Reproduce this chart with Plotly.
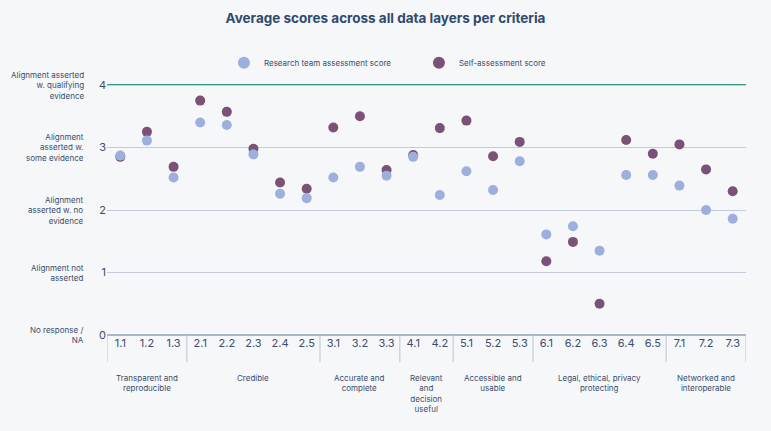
import plotly.graph_objects as go

# criteria codes along the x axis
criteria = ["1.1", "1.2", "1.3",
            "2.1", "2.2", "2.3", "2.4", "2.5",
            "3.1", "3.2", "3.3",
            "4.1", "4.2",
            "5.1", "5.2", "5.3",
            "6.1", "6.2", "6.3", "6.4", "6.5",
            "7.1", "7.2", "7.3"]

research_team = [2.87, 3.11, 2.52,
                 3.40, 3.36, 2.89, 2.26, 2.19,
                 2.52, 2.69, 2.55,
                 2.85, 2.24,
                 2.62, 2.32, 2.78,
                 1.61, 1.74, 1.35, 2.56, 2.56,
                 2.39, 2.00, 1.86]

self_assessment = [2.85, 3.25, 2.69,
                   3.75, 3.57, 2.98, 2.44, 2.34,
                   3.32, 3.50, 2.64,
                   2.88, 3.31,
                   3.43, 2.86, 3.09,
                   1.18, 1.49, 0.50, 3.12, 2.90,
                   3.05, 2.65, 2.30]

groups = ["Transparent and<br>reproducible", "Credible", "Accurate and<br>complete",
          "Relevant<br>and<br>decision<br>useful", "Accessible and<br>usable",
          "Legal, ethical, privacy<br>protecting", "Networked and<br>interoperable"]
group_sizes = [3, 5, 3, 2, 3, 5, 3]

score_levels = [0, 1, 2, 3, 4]
score_labels = ["No response /<br>NA", "Alignment not<br>asserted",
                "Alignment<br>asserted w. no<br>evidence",
                "Alignment<br>asserted w.<br>some evidence",
                "Alignment asserted<br>w. qualifying<br>evidence"]

FONT = "Inter"
TEXT = "#3b4d6b"
BG = "#f6f7f9"
GRID = "#c3cbdd"

xpos = list(range(len(criteria)))

fig = go.Figure()
fig.add_trace(go.Scatter(
    x=xpos, y=self_assessment, mode="markers", name="Self-assessment score",
    marker=dict(size=10, color="#7b5175"), legendrank=2
))
fig.add_trace(go.Scatter(
    x=xpos, y=research_team, mode="markers", name="Research team assessment score",
    marker=dict(size=10, color="#9cafdd"), legendrank=1
))

shapes = []
# teal line at top score
shapes.append(dict(type="line", xref="paper", yref="y", x0=0, x1=1, y0=4, y1=4,
                   line=dict(color="#3a978a", width=2), layer="between"))

# separators between criteria groups
bounds = [-0.5]
for n in group_sizes:
    bounds.append(bounds[-1] + n)
for b in bounds:
    shapes.append(dict(type="line", xref="x", yref="paper", x0=b, x1=b, y0=0, y1=-0.095,
                       line=dict(color="#b9c3d5", width=1)))

annotations = []
start = 0
for g, n in zip(groups, group_sizes):
    annotations.append(dict(
        x=start + (n - 1) / 2, y=-0.125, xref="x", yref="paper", text=g,
        showarrow=False, xanchor="center", yanchor="top", align="center",
        font=dict(family=FONT, size=8, color=TEXT)
    ))
    start += n

for lv, lab in zip(score_levels, score_labels):
    annotations.append(dict(
        x=-0.033, y=lv, xref="paper", yref="y", text=lab, showarrow=False,
        xanchor="right", yanchor="middle", align="right",
        font=dict(family=FONT, size=8, color=TEXT)
    ))

fig.update_layout(
    width=771, height=431,
    margin=dict(l=107, r=25, t=50, b=96, autoexpand=False),
    paper_bgcolor=BG, plot_bgcolor=BG,
    title=dict(text="<b>Average scores across all data layers per criteria</b>",
               x=0.5, xanchor="center", y=0.958, yanchor="middle",
               font=dict(family=FONT, size=13.5, color="#2f4a6c")),
    font=dict(family=FONT, color=TEXT),
    legend=dict(orientation="h", x=0.183, xanchor="left", y=0.955, yanchor="middle",
                itemsizing="constant", entrywidth=150, bgcolor="rgba(0,0,0,0)",
                traceorder="normal",
                font=dict(family=FONT, size=8, color=TEXT)),
    xaxis=dict(range=[-0.5, len(criteria) - 0.5], tickvals=xpos, ticktext=criteria,
               showgrid=False, zeroline=False, showline=False, automargin=False,
               tickfont=dict(family=FONT, size=11, color=TEXT), fixedrange=True),
    yaxis=dict(range=[0, 4.56], tickvals=score_levels, ticktext=[str(v) for v in score_levels],
               showgrid=True, gridcolor=GRID, gridwidth=1, zeroline=True,
               zerolinecolor="#aab5ca", zerolinewidth=2, showline=False, automargin=False,
               tickfont=dict(family=FONT, size=11, color=TEXT), fixedrange=True),
    shapes=shapes, annotations=annotations,
    showlegend=True,
)

# drop the browser's default body margin so the figure sits at the window corner
fig.write_html("out.html", config={"displayModeBar": False},
               post_script="document.body.style.margin='0';document.body.style.background='" + BG + "';")
